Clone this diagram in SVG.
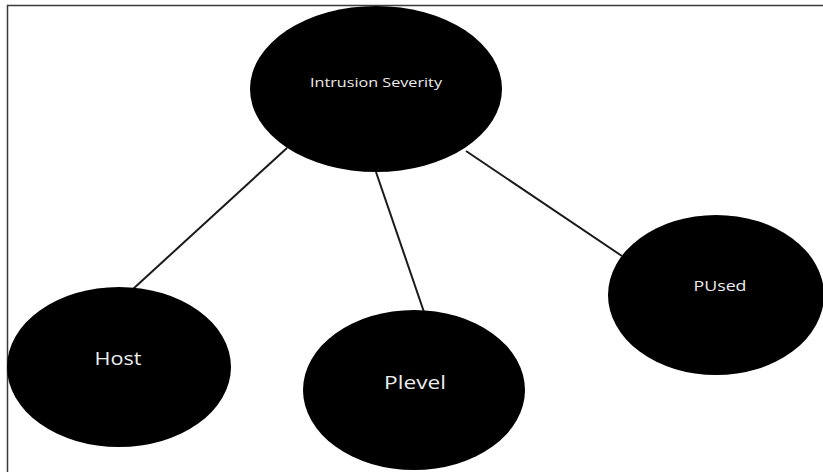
<svg xmlns="http://www.w3.org/2000/svg" width="823" height="472" viewBox="0 0 823 472">
  <style>
    .node { fill: #000; }
    .label { fill: #ececec; font-family: "Open Sans", "Liberation Sans", sans-serif; text-anchor: middle; }
    .edge { stroke: #1a1a1a; stroke-width: 2; fill: none; }
    .frame { fill: #fff; stroke: #3a3a3a; stroke-width: 1.5; }
  </style>
  <rect class="frame" x="7.5" y="5.5" width="820" height="475"/>
  <g id="connectors">
    <line class="edge" x1="287" y1="148" x2="133" y2="289"/>
    <line class="edge" x1="376" y1="172" x2="424" y2="312"/>
    <line class="edge" x1="466" y1="151" x2="622" y2="256"/>
  </g>
  <g id="intrusion-severity">
    <ellipse class="node" cx="376" cy="89" rx="126" ry="83"/>
    <text class="label" x="376" y="87" font-size="12.5" textLength="132" lengthAdjust="spacingAndGlyphs">Intrusion Severity</text>
  </g>
  <g id="host">
    <ellipse class="node" cx="119" cy="367" rx="112" ry="80"/>
    <text class="label" x="118" y="365" font-size="19" textLength="47" lengthAdjust="spacingAndGlyphs">Host</text>
  </g>
  <g id="plevel">
    <ellipse class="node" cx="414" cy="390" rx="111" ry="80"/>
    <text class="label" x="415" y="389" font-size="19" textLength="62" lengthAdjust="spacingAndGlyphs">Plevel</text>
  </g>
  <g id="pused">
    <ellipse class="node" cx="716" cy="295" rx="108" ry="80"/>
    <text class="label" x="720" y="291" font-size="15" textLength="53" lengthAdjust="spacingAndGlyphs">PUsed</text>
  </g>
</svg>
